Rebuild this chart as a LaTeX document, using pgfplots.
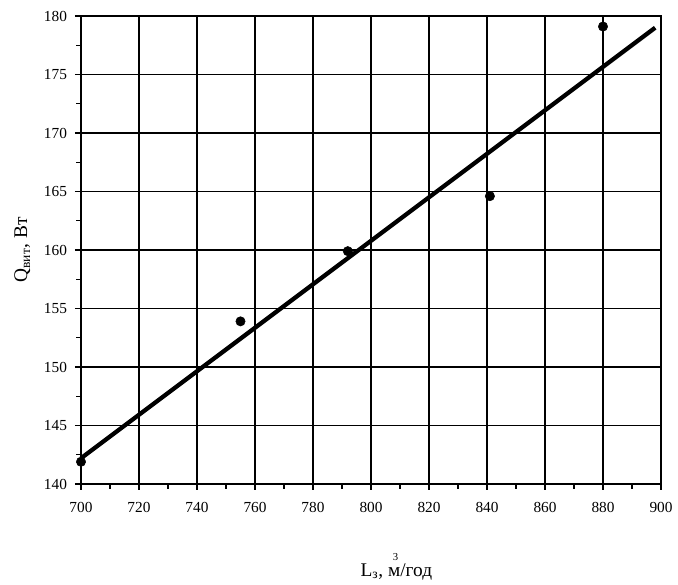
\documentclass[border=0pt]{standalone}
\usepackage{pgfplots}
\pgfplotsset{compat=1.18}
\usepackage{fontspec}
\setmainfont{Liberation Serif}
\begin{document}
\begin{tikzpicture}
\begin{axis}[
  scale only axis,
  width=435pt, height=351pt,
  xmin=700, xmax=900, ymin=140, ymax=180,
  xtick={700,720,...,900}, ytick={140,145,...,180},
  minor x tick num=1, minor y tick num=1,
  tick align=outside,
  major tick length=4.5pt, minor tick length=3.5pt,
  xtick pos=bottom, ytick pos=left,
  grid=major,
  major grid style={black, line width=0.9pt},
  axis line style={black, line width=0.9pt},
  tick style={black, line width=0.8pt},
  clip=false,
  /pgf/number format/assume math mode=true,
  /pgf/number format/1000 sep={},
  tick label style={font=\fontsize{11.5}{13}\selectfont},
  xticklabel style={yshift=-6pt},
  yticklabel style={xshift=-2.5pt},
  xlabel={L\textsubscript{з}, {\rlap{\raisebox{1.75ex}{\kern0.25em\footnotesize 3}}м}/год},
  ylabel={Q\textsubscript{вит}, Вт},
  label style={font=\fontsize{14.5}{17}\selectfont},
  xlabel style={at={(axis description cs:0.5,0)}, anchor=center, yshift=-62pt, xshift=19pt},
  ylabel style={at={(axis description cs:0,0.5)}, anchor=center, yshift=44pt},
]
\path (axis cs:700,140) ++(-60.75pt,-72.75pt) coordinate (bl);
\path (axis cs:900,180) ++(12.75pt,12pt) coordinate (tr);
\path[draw=none] (bl) rectangle (tr);
\addplot[only marks, mark=*, mark size=3.5pt, black] coordinates {
  (700,141.9) (755,153.9) (792,159.9) (841,164.6) (880,179.1)
};
\addplot[black, line width=3.2pt] coordinates {
  (700,142.2) (898,179.0)
};
\end{axis}
\end{tikzpicture}
\end{document}
